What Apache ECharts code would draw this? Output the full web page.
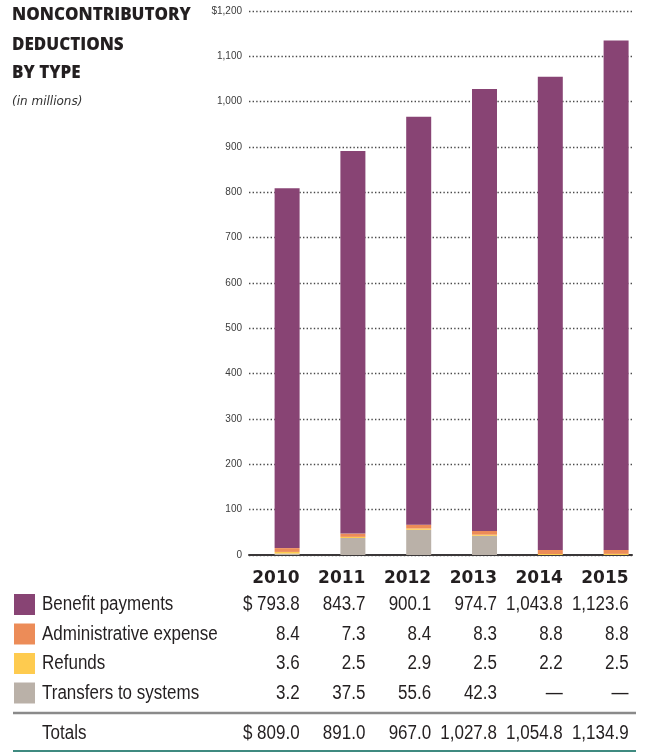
<!DOCTYPE html>
<html>
<head>
<meta charset="utf-8">
<script src="https://cdn.jsdelivr.net/npm/echarts@6/dist/echarts.min.js"></script>
<style>
  html, body { margin: 0; padding: 0; background: #ffffff; }
  #chart { width: 649px; height: 752px; }
</style>
</head>
<body>
<div id="chart"></div>
<script>
// Noncontributory deductions by type, in millions of dollars
const years = ['2010', '2011', '2012', '2013', '2014', '2015'];
const benefitPayments = [793.8, 843.7, 900.1, 974.7, 1043.8, 1123.6];
const administrativeExpense = [8.4, 7.3, 8.4, 8.3, 8.8, 8.8];
const refunds = [3.6, 2.5, 2.9, 2.5, 2.2, 2.5];
const transfersToSystems = [3.2, 37.5, 55.6, 42.3, null, null];
const totals = [809.0, 891.0, 967.0, 1027.8, 1054.8, 1134.9];
const yTickLabels = ['0', '100', '200', '300', '400', '500', '600', '700', '800', '900', '1,000', '1,100', '$1,200'];

const seriesNames = ['Benefit payments', 'Administrative expense', 'Refunds', 'Transfers to systems'];
const seriesColors = ['#884474', '#ec8c58', '#fecb4f', '#bab1a8'];

const TABLE_FONT = "20px 'Liberation Sans', Arial, sans-serif";
const SQUEEZE = 0.85;   // condensed look for the table text
const TEXT = '#231f20';
const BAR_W = 25;

const chart = echarts.init(document.getElementById('chart'), null, { renderer: 'canvas' });

function fmt(v, dollar) {
  if (v === null || v === undefined) return '\u2014';
  const s = v.toLocaleString('en-US', { minimumFractionDigits: 1, maximumFractionDigits: 1 });
  return dollar ? '$ ' + s : s;
}

const option = {
  backgroundColor: '#ffffff',
  animation: false,
  grid: [
    // frame for the value scale, gridlines and baseline
    { left: 249, top: 11, width: 383, height: 544 },
    // frame for the bar columns
    { left: 254.2, top: 11, width: 399.6, height: 544 }
  ],
  xAxis: [
    {
      gridIndex: 0, type: 'category', data: years,
      axisLine: { show: true, lineStyle: { color: '#3b3839', width: 2 } },
      axisTick: { show: false }, axisLabel: { show: false }, splitLine: { show: false }
    },
    {
      gridIndex: 1, type: 'category', data: years, show: false
    }
  ],
  yAxis: [
    {
      gridIndex: 0, type: 'value', min: 0, max: 1200, interval: 100,
      axisLine: { show: false }, axisTick: { show: false },
      axisLabel: {
        margin: 7, fontSize: 10, fontFamily: "'Liberation Sans', Arial, sans-serif", color: '#3c3c3c',
        formatter: (v) => yTickLabels[Math.round(v / 100)]
      },
      splitLine: { show: true, lineStyle: { color: '#4a4a4a', width: 1.4, type: [1.4, 2.2] } }
    },
    {
      gridIndex: 1, type: 'value', min: 0, max: 1200, show: false, splitLine: { show: false }
    }
  ],
  series: [
    { name: seriesNames[3], data: transfersToSystems, color: seriesColors[3] },
    { name: seriesNames[2], data: refunds, color: seriesColors[2] },
    { name: seriesNames[1], data: administrativeExpense, color: seriesColors[1] },
    { name: seriesNames[0], data: benefitPayments, color: seriesColors[0] }
  ].map(s => ({
    type: 'bar', name: s.name, data: s.data, stack: 'total',
    xAxisIndex: 1, yAxisIndex: 1, barWidth: BAR_W,
    itemStyle: { color: s.color }
  }))
};

chart.setOption(option);

// Title block and the value table beneath the columns
const g = [];
const titleLines = ['NONCONTRIBUTORY', 'DEDUCTIONS', 'BY TYPE'];
const titleY = [15, 45, 73];
titleLines.forEach((t, i) => {
  g.push({ type: 'text', style: { text: t, x: 12, y: titleY[i], verticalAlign: 'middle',
    font: "800 17px 'Open Sans', sans-serif", fill: TEXT } });
});
g.push({ type: 'text', style: { text: '(in millions)', x: 12, y: 102, verticalAlign: 'middle',
  font: "italic 12px 'DejaVu Sans', sans-serif", fill: '#333333' } });

function tableText(text, x, y, align) {
  return { type: 'text', x: x, y: y, scaleX: SQUEEZE,
    style: { text: text, x: 0, y: 0, align: align, verticalAlign: 'middle', font: TABLE_FONT, fill: TEXT } };
}

// column right edges follow the bar columns
const colRight = years.map((y, i) => chart.convertToPixel({ xAxisIndex: 1 }, i) + BAR_W / 2);

years.forEach((y, i) => {
  g.push({ type: 'text', style: { text: y, x: colRight[i], y: 579, align: 'right', verticalAlign: 'middle',
    font: "bold 17px 'DejaVu Sans', sans-serif", fill: TEXT } });
});

const rows = [benefitPayments, administrativeExpense, refunds, transfersToSystems];
const rowY = [604.5, 634, 663.5, 693];
rows.forEach((vals, r) => {
  g.push({ type: 'rect', shape: { x: 14, y: rowY[r] - 10.5, width: 21, height: 21 },
    style: { fill: seriesColors[r] } });
  g.push(tableText(seriesNames[r], 42, rowY[r], 'left'));
  vals.forEach((v, i) => {
    g.push(tableText(fmt(v, r === 0 && i === 0), colRight[i], rowY[r], 'right'));
  });
});

g.push({ type: 'line', shape: { x1: 13, y1: 713, x2: 636, y2: 713 },
  style: { stroke: '#8a8a8a', lineWidth: 2.5 } });
g.push(tableText('Totals', 42, 733, 'left'));
totals.forEach((v, i) => {
  g.push(tableText(fmt(v, i === 0), colRight[i], 733, 'right'));
});
g.push({ type: 'line', shape: { x1: 13, y1: 751, x2: 636, y2: 751 },
  style: { stroke: '#3f8a80', lineWidth: 2 } });

chart.setOption({ graphic: g });
</script>
</body>
</html>
